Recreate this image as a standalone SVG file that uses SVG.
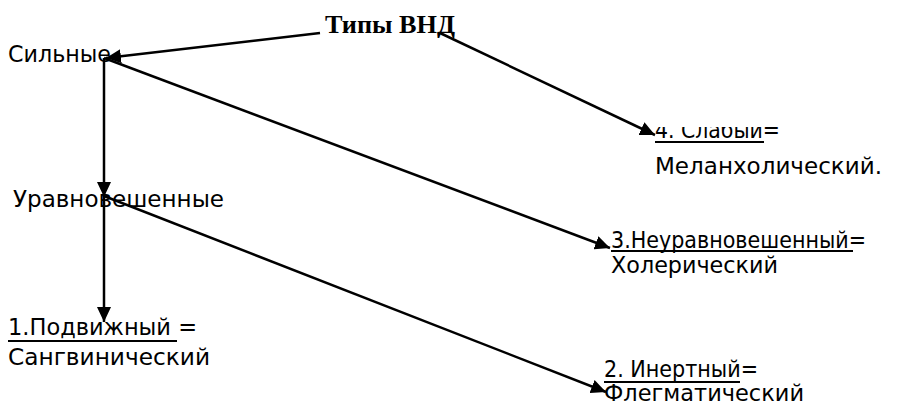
<svg xmlns="http://www.w3.org/2000/svg" width="900" height="405" viewBox="0 0 900 405">
  <style>
    .lbl { font-family: "DejaVu Sans", "Open Sans", sans-serif; font-size: 23px; fill: #000; }
    .ttl { font-family: "Liberation Serif", "Times New Roman", serif; font-size: 26px; font-weight: bold; fill: #000; }
    .ul { stroke: #000; stroke-width: 2; }
    .edge { stroke: #000; stroke-width: 2.5; fill: none; marker-end: url(#arrow); }
  </style>
  <defs>
    <marker id="arrow" markerUnits="userSpaceOnUse" markerWidth="16" markerHeight="14" refX="15" refY="7" orient="auto">
      <path d="M0,0 L15,7 L0,14 Z" fill="#000"/>
    </marker>
    <clipPath id="clipWeak">
      <rect x="640" y="127" width="260" height="80"/>
    </clipPath>
  </defs>

  <rect width="900" height="405" fill="#fff"/>

  <g id="connectors">
    <line class="edge" x1="320" y1="33" x2="106" y2="58"/>
    <line class="edge" x1="440" y1="33" x2="655" y2="135"/>
    <line class="edge" x1="104" y1="58" x2="104" y2="197"/>
    <line class="edge" x1="104" y1="196" x2="104" y2="322"/>
    <line class="edge" x1="104" y1="58" x2="610" y2="248"/>
    <line class="edge" x1="104" y1="196" x2="606" y2="392"/>
  </g>

  <g id="root">
    <text class="ttl" x="325" y="33" textLength="130" lengthAdjust="spacingAndGlyphs">Типы ВНД</text>
  </g>

  <g id="strong">
    <text class="lbl" x="8" y="62" textLength="103" lengthAdjust="spacingAndGlyphs">Сильные</text>
  </g>

  <g id="balanced">
    <text class="lbl" x="13" y="207" textLength="211" lengthAdjust="spacingAndGlyphs">Уравновешенные</text>
  </g>

  <g id="weak" clip-path="url(#clipWeak)">
    <text class="lbl" x="655" y="138" textLength="125" lengthAdjust="spacingAndGlyphs">4. Слабый=</text>
    <line class="ul" x1="655" y1="142" x2="764" y2="142"/>
    <text class="lbl" x="655" y="174" textLength="227" lengthAdjust="spacingAndGlyphs">Меланхолический.</text>
  </g>

  <g id="unbalanced">
    <text class="lbl" x="611" y="248" textLength="255" lengthAdjust="spacingAndGlyphs">3.Неуравновешенный=</text>
    <line class="ul" x1="611" y1="251" x2="853" y2="251"/>
    <text class="lbl" x="611" y="273" textLength="167" lengthAdjust="spacingAndGlyphs">Холерический</text>
  </g>

  <g id="mobile">
    <text class="lbl" x="8" y="335" textLength="189" lengthAdjust="spacingAndGlyphs">1.Подвижный =</text>
    <line class="ul" x1="8" y1="341" x2="177" y2="341"/>
    <text class="lbl" x="8" y="365" textLength="202" lengthAdjust="spacingAndGlyphs">Сангвинический</text>
  </g>

  <g id="inert">
    <text class="lbl" x="604" y="377" textLength="154" lengthAdjust="spacingAndGlyphs">2. Инертный=</text>
    <line class="ul" x1="604" y1="382" x2="740" y2="382"/>
    <text class="lbl" x="604" y="401" textLength="200" lengthAdjust="spacingAndGlyphs">Флегматический</text>
  </g>
</svg>
